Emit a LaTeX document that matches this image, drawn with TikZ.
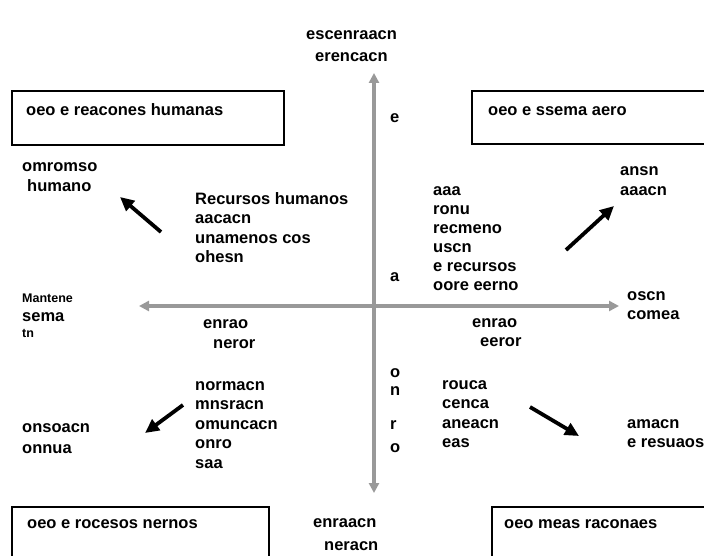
\documentclass[tikz,border=0pt]{standalone}
\usepackage{fontspec}
\setmainfont{Liberation Sans}
\usetikzlibrary{arrows.meta, positioning}

\begin{document}
\begin{tikzpicture}[
    x=1pt, y=-1pt,
    txt/.style={anchor=base west, inner sep=0pt, align=left, font=\fontsize{16.5}{19.5}\selectfont\bfseries},
    small/.style={anchor=base west, inner sep=0pt, font=\fontsize{12.5}{14}\selectfont\bfseries},
    quad/.style={draw=black, line width=1.2pt},
    axis/.style={{Triangle[length=10pt,width=10pt]}-{Triangle[length=10pt,width=10pt]}, draw=black!40, line width=3.5pt},
    trend/.style={-{Triangle[length=14pt,width=13pt]}, line width=3.8pt}
]
    \useasboundingbox (0,0) rectangle (704,556);

    % Boxes (multi-line nodes sit on their last baseline)
    \draw[quad] (12,91) rectangle (284,145);
    \draw[quad] (710,91) -- (472,91) -- (472,144) -- (710,144);
    \draw[quad] (12,570) -- (12,507) -- (269,507) -- (269,570);
    \draw[quad] (492,570) -- (492,507) -- (710,507);
    \node[txt] (hrbox) at (26,116) {oeo e reacones humanas};
    \node[txt] (sysbox) at (488,116) {oeo e ssema aero};
    \node[txt] (procbox) at (27,528) {oeo e rocesos nernos};
    \node[txt] (mktbox) at (504,528) {oeo meas raconaes};

    % Axes
    \coordinate (ytop) at (374,73);
    \coordinate (ybot) at (374,493);
    \coordinate (xleft) at (139,306);
    \coordinate (xright) at (619,306);
    \draw[axis] (ybot) -- (ytop);
    \draw[axis] (xleft) -- (xright);

    % Axis ends
    \node[txt, font=\fontsize{16.5}{22}\selectfont\bfseries] (decen) at (306,62) {escenraacn\\\hspace*{9pt}erencacn};
    \node[txt, font=\fontsize{16.5}{23}\selectfont\bfseries] (centr) at (313,550) {enraacn\\\hspace*{11pt}neracn};
    \node[small] (keep) at (22,302) {Mantene};
    \node[txt] (sysw) at (22,321) {sema};
    \node[small] (tn) at (22,337) {tn};
    \node[txt] (opos) at (627,319.5) {oscn\\comea};

    % Axis letters
    \node[txt] (ve) at (390,123) {e};
    \node[txt] (va) at (390,281) {a};
    \node[txt] (vo) at (390,377) {o};
    \node[txt] (vn) at (390,395) {n};
    \node[txt] (vr) at (390,429) {r};
    \node[txt] (vo2) at (390,452) {o};

    % Axis labels
    \node[txt] (intw) at (203,348) {enrao\\\hspace*{10pt}neror};
    \node[txt, font=\fontsize{16.5}{19}\selectfont\bfseries] (inte) at (472,346) {enrao\\\hspace*{8pt}eeror};

    % Quadrant lists
    \node[txt] (hrlist) at (195,262.5) {Recursos humanos\\aacacn\\unamenos cos\\ohesn};
    \node[txt, font=\fontsize{16.5}{19}\selectfont\bfseries] (syslist) at (433,290) {aaa\\ronu\\recmeno\\uscn\\e recursos\\oore eerno};
    \node[txt] (proclist) at (195,468) {normacn\\mnsracn\\omuncacn\\onro\\saa};
    \node[txt] (mktlist) at (442,447.5) {rouca\\cenca\\aneacn\\eas};

    % Quadrant goals
    \node[txt] (commit) at (22,191.5) {omromso\\\hspace*{5pt}humano};
    \node[txt] (growth) at (620,195.5) {ansn\\aaacn};
    \node[txt, font=\fontsize{16.5}{21}\selectfont\bfseries] (consol) at (22,453) {onsoacn\\onnua};
    \node[txt] (maxim) at (627,447.5) {amacn\\e resuaos};

    % Trend arrows
    \coordinate (nwa) at (161,232);
    \coordinate (nwb) at (120,197);
    \coordinate (nea) at (566,250);
    \coordinate (neb) at (614,206);
    \coordinate (swa) at (183,405);
    \coordinate (swb) at (145,433);
    \coordinate (sea) at (530,407);
    \coordinate (seb) at (579,436);
    \draw[trend] (nwa) -- (nwb);
    \draw[trend] (nea) -- (neb);
    \draw[trend] (swa) -- (swb);
    \draw[trend] (sea) -- (seb);
\end{tikzpicture}
\end{document}
